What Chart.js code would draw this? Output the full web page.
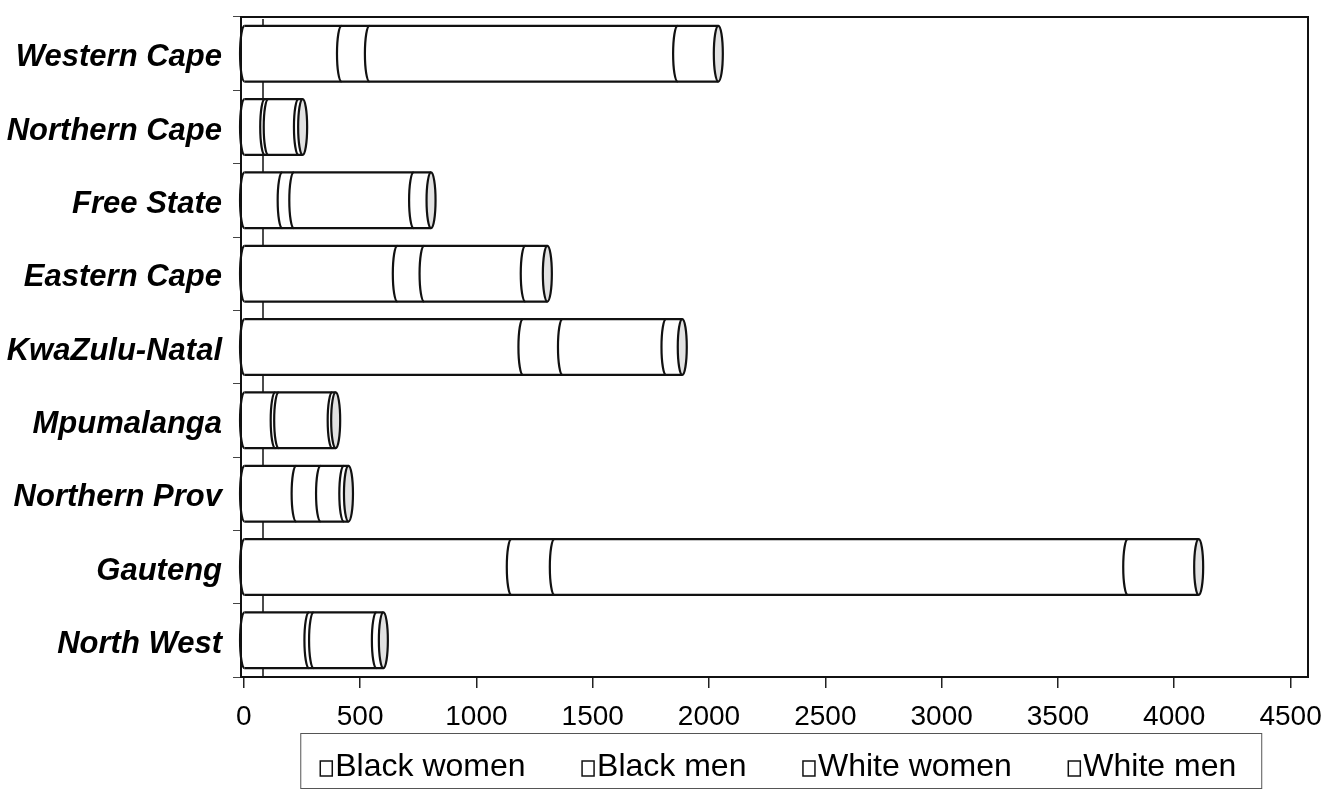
<!DOCTYPE html>
<html>
<head>
<meta charset="utf-8">
<script src="https://cdn.jsdelivr.net/npm/chart.js@4.4.0/dist/chart.umd.min.js"></script>
<style>
  html, body { margin: 0; padding: 0; background: #fff; }
</style>
</head>
<body>
<canvas id="chart" width="1321" height="791"></canvas>
<script>
// provinces, top to bottom
const provinces = ['Western Cape', 'Northern Cape', 'Free State', 'Eastern Cape', 'KwaZulu-Natal',
                   'Mpumalanga', 'Northern Prov', 'Gauteng', 'North West'];

// values (stacked segments)
const blackWomen = [420, 90, 165, 660, 1200, 135, 225, 1150, 280];
const blackMen   = [120, 15, 50, 115, 170, 15, 105, 185, 20];
const whiteWomen = [1325, 130, 515, 435, 445, 230, 100, 2465, 270];
const whiteMen   = [175, 18, 75, 95, 70, 15, 20, 305, 30];

const seriesNames = ['Black women', 'Black men', 'White women', 'White men'];
const xTicks = [0, 500, 1000, 1500, 2000, 2500, 3000, 3500, 4000, 4500];

const FONT = '"Liberation Sans", Arial, Helvetica, sans-serif';
const LEGEND_BOX = 32.5;   // invisible legend swatch, the visible one is drawn by legendBox
const LEGEND_FONT = 32;

// plot border + back wall edge (drawn behind the bars)
const frame = {
    id: 'frame',
    afterLayout(chart) {
        // nudge the legend row a little to the left, as in the original
        if (chart.legend) {
            chart.legend.left -= 13;
            chart.legend.right -= 13;
        }
    },
    beforeDatasetsDraw(chart) {
        const { ctx, chartArea: a } = chart;
        ctx.save();
        ctx.strokeStyle = '#111';
        ctx.lineWidth = 1.5;
        ctx.beginPath();
        ctx.moveTo(a.left + 22, a.top + 2);
        ctx.lineTo(a.left + 22, a.bottom);
        ctx.stroke();
        ctx.lineWidth = 2;
        ctx.strokeRect(a.left, a.top, a.right - a.left, a.bottom - a.top);
        ctx.restore();
    }
};

// outline every stacked bar as a cylinder
const cylinders = {
    id: 'cylinders',
    afterDatasetsDraw(chart) {
        const ctx = chart.ctx;
        const metas = chart.data.datasets.map((d, i) => chart.getDatasetMeta(i));
        ctx.save();
        ctx.strokeStyle = '#111';
        ctx.lineWidth = 2.2;
        provinces.forEach((p, j) => {
            const els = metas.map(m => m.data[j].getProps(['x', 'y', 'base', 'height'], true));
            const first = els[0];
            const last = els[els.length - 1];
            const r = first.height / 2;
            const rx = 4.5;
            const y = first.y;
            const start = first.base;

            ctx.beginPath();
            ctx.moveTo(start, y - r); ctx.lineTo(last.x, y - r);
            ctx.moveTo(start, y + r); ctx.lineTo(last.x, y + r);
            ctx.stroke();

            // front arcs at start and at each segment boundary
            [start].concat(els.slice(0, -1).map(e => e.x)).forEach(x => {
                ctx.beginPath();
                ctx.ellipse(x, y, rx, r, 0, Math.PI / 2, Math.PI * 1.5);
                ctx.stroke();
            });

            // end cap
            ctx.beginPath();
            ctx.ellipse(last.x, y, rx, r, 0, 0, Math.PI * 2);
            ctx.fillStyle = '#e2e2e2';
            ctx.fill();
            ctx.stroke();
        });
        ctx.restore();
    }
};

// small square swatches + thin frame round the legend
const legendBox = {
    id: 'legendBox',
    afterDraw(chart) {
        const legend = chart.legend;
        const hb = legend && legend.legendHitBoxes;
        if (!hb || !hb.length) return;
        const ctx = chart.ctx;
        ctx.save();
        ctx.strokeStyle = '#111';
        ctx.lineWidth = 1.5;
        hb.forEach(b => {
            const textX = b.left + LEGEND_BOX + LEGEND_FONT / 2;
            const cy = b.top + b.height / 2;
            ctx.strokeRect(textX - 15, cy - 6, 12, 15);
        });
        const lastBox = hb[hb.length - 1];
        const left = hb[0].left + LEGEND_BOX + LEGEND_FONT / 2 - 35;
        const right = lastBox.left + lastBox.width + 25;
        const top = hb[0].top - 18;
        const bottom = hb[0].top + hb[0].height + 5;
        ctx.strokeStyle = '#555';
        ctx.lineWidth = 1;
        ctx.strokeRect(left + 0.5, top + 0.5, right - left, bottom - top);
        ctx.restore();
    }
};

const seriesData = [blackWomen, blackMen, whiteWomen, whiteMen];

new Chart(document.getElementById('chart'), {
    type: 'bar',
    data: {
        labels: provinces,
        datasets: seriesNames.map((name, i) => ({
            label: name,
            data: seriesData[i],
            backgroundColor: '#ffffff',
            borderWidth: 0,
            barPercentage: 0.76,
            categoryPercentage: 1
        }))
    },
    options: {
        indexAxis: 'y',
        responsive: false,
        animation: false,
        layout: { padding: { top: 17, right: 13, bottom: 0, left: 0 } },
        scales: {
            x: {
                stacked: true,
                min: -12,
                max: 4575,
                afterBuildTicks: s => { s.ticks = xTicks.map(v => ({ value: v })); },
                afterFit: s => {
                    s.height = 51;
                    s.paddingLeft = 0;
                    s.paddingRight = 0;
                },
                ticks: {
                    font: { family: FONT, size: 28 },
                    color: '#000',
                    padding: 12,
                    maxRotation: 0,
                    autoSkip: false,
                    callback: v => String(v)
                },
                grid: { drawOnChartArea: false, tickLength: 11, color: '#222', lineWidth: 1.5 },
                border: { display: false }
            },
            y: {
                stacked: true,
                afterFit: s => {
                    s.width = 241;
                    s.paddingTop = 0;
                    s.paddingBottom = 0;
                },
                ticks: {
                    font: { family: FONT, size: 31, style: 'italic', weight: 'bold' },
                    color: '#000',
                    padding: 11,
                    labelOffset: 4
                },
                grid: { drawOnChartArea: false, tickLength: 8, color: '#444', offset: true },
                border: { display: false }
            }
        },
        plugins: {
            legend: {
                position: 'bottom',
                fullSize: false,
                maxHeight: 63,
                labels: {
                    font: { family: FONT, size: LEGEND_FONT },
                    color: '#000',
                    boxWidth: LEGEND_BOX,
                    boxHeight: 16,
                    padding: 23,
                    generateLabels: chart => chart.data.datasets.map((d, i) => ({
                        text: d.label,
                        fillStyle: 'rgba(0,0,0,0)',
                        strokeStyle: 'rgba(0,0,0,0)',
                        lineWidth: 0,
                        datasetIndex: i,
                        hidden: false
                    }))
                }
            },
            tooltip: { enabled: false }
        }
    },
    plugins: [frame, cylinders, legendBox]
});
</script>
</body>
</html>
